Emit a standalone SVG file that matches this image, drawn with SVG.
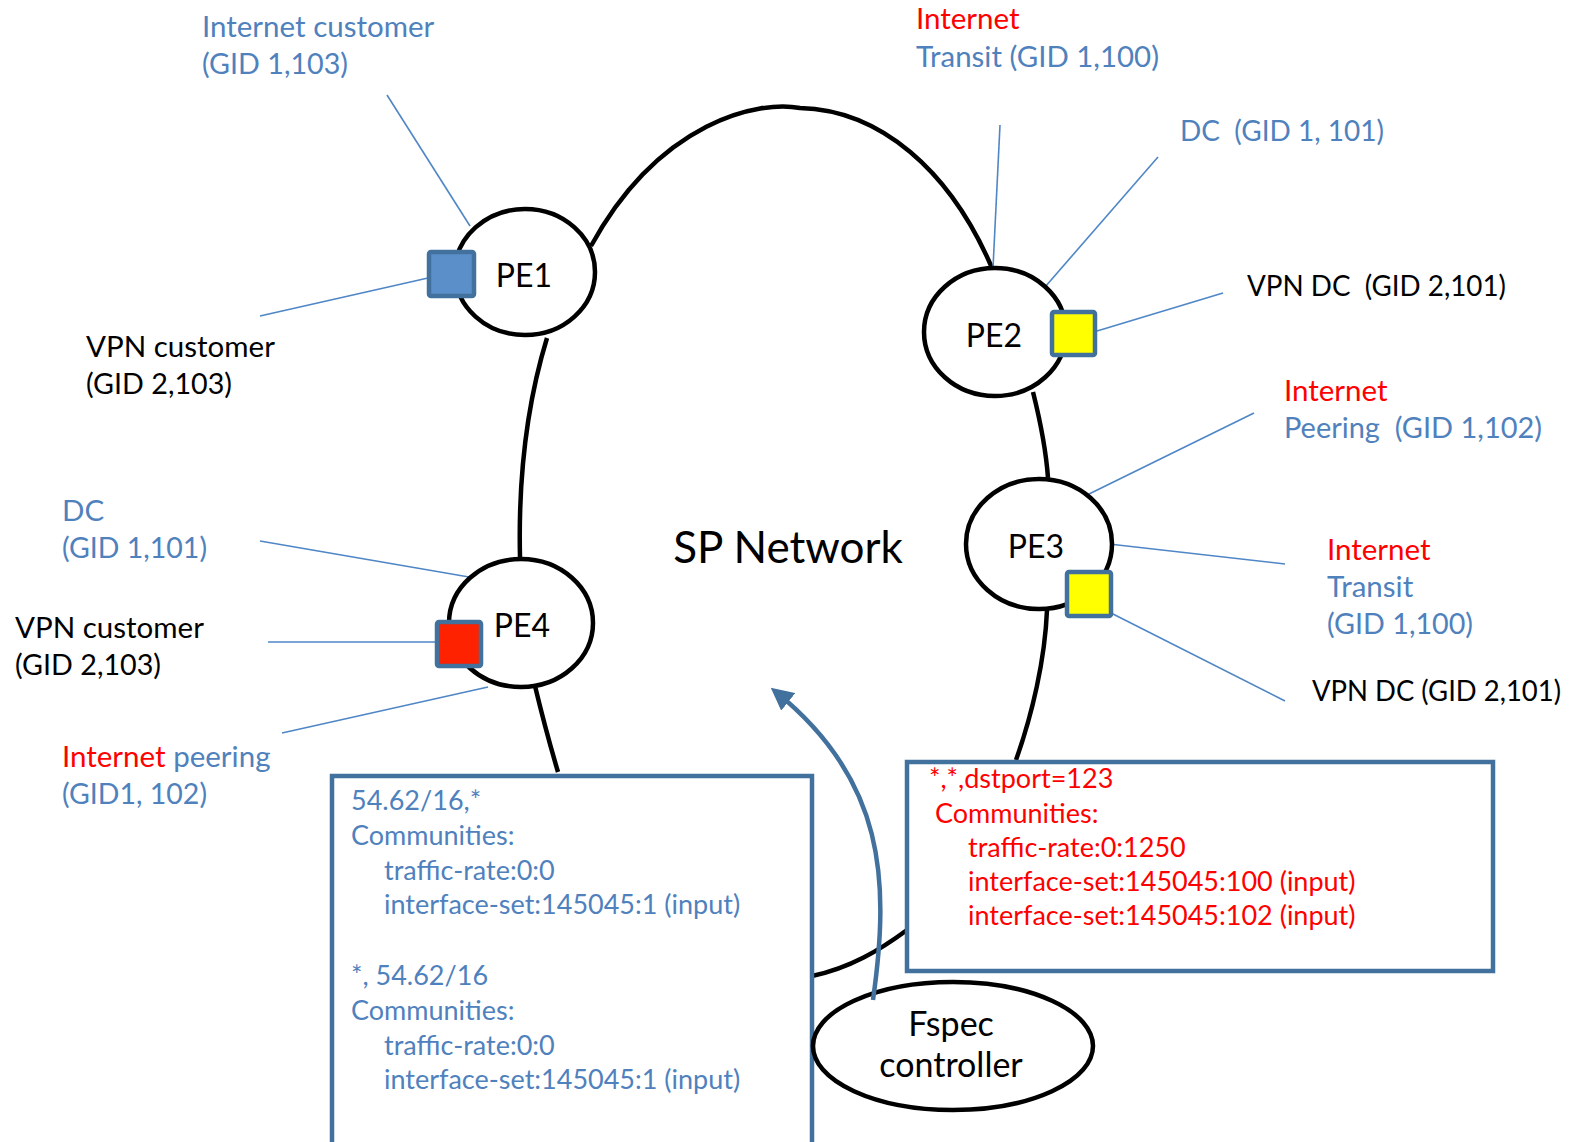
<svg xmlns="http://www.w3.org/2000/svg" width="1575" height="1142" viewBox="0 0 1575 1142">
<style>
  text { font-family: Lato, "Open Sans", "Liberation Sans", sans-serif; }
  .lbl { font-size: 29.5px; }
  .blue { fill: #4f81bd; }
  .red { fill: #ff0000; }
  .blk { fill: #000000; }
  .pe { font-size: 32px; fill: #000; text-anchor: middle; }
  .node { fill: #fff; stroke: #000; stroke-width: 4.5; }
  .ring { fill: none; stroke: #000; stroke-width: 4.5; }
  .lead { stroke: #4f86c6; stroke-width: 1.6; fill: none; }
  .port { stroke: #41719c; stroke-width: 4.5; }
  .box { fill: #fff; stroke: #41719c; stroke-width: 4.5; }
  .btxt { font-size: 27px; }
</style>
<defs>
  <marker id="arrowhead" markerWidth="5" markerHeight="5" refX="3.5" refY="2.5" orient="auto" markerUnits="strokeWidth">
    <path d="M0,0 L5,2.5 L0,5 Z" fill="#41719c"/>
  </marker>
</defs>
<rect width="1575" height="1142" fill="#fff"/>

<!-- ring links between PEs -->
<g id="connectors">
  <path class="ring" d="M591,246 C660,120 760,100 800,108 C880,110 950,170 992,268"/>
  <path class="ring" d="M1033,392 C1040,420 1046,450 1048,478"/>
  <path class="ring" d="M1047,610 C1045,660 1032,715 1016,760"/>
  <path class="ring" d="M907,930 C880,950 850,968 812,976"/>
  <path class="ring" d="M535,686 C542,715 550,745 558,772"/>
  <path class="ring" d="M520,557 C518,470 528,400 547,338"/>
  <!-- attachment leaders -->
  <line class="lead" x1="387" y1="95" x2="470" y2="226"/>
  <line class="lead" x1="260" y1="316" x2="428" y2="278"/>
  <line class="lead" x1="1000" y1="125" x2="993" y2="268"/>
  <line class="lead" x1="1158" y1="157" x2="1045" y2="287"/>
  <line class="lead" x1="1223" y1="293" x2="1097" y2="331"/>
  <line class="lead" x1="1254" y1="413" x2="1087" y2="495"/>
  <line class="lead" x1="1109" y1="544" x2="1285" y2="564"/>
  <line class="lead" x1="1111" y1="613" x2="1285" y2="701"/>
  <line class="lead" x1="260" y1="541" x2="469" y2="577"/>
  <line class="lead" x1="268" y1="642" x2="436" y2="642"/>
  <line class="lead" x1="282" y1="733" x2="488" y2="687"/>
</g>

<g id="pe1">
  <ellipse class="node" cx="525" cy="272" rx="70" ry="63"/>
  <rect class="port" x="429" y="252" width="45" height="44" rx="2" fill="#5b8fc9"/>
  <text class="pe" x="524" y="287">PE1</text>
</g>
<g id="pe2">
  <ellipse class="node" cx="995" cy="332" rx="71" ry="64"/>
  <rect class="port" x="1052" y="312" width="43" height="43" rx="2" fill="#ffff00"/>
  <text class="pe" x="994" y="347">PE2</text>
</g>
<g id="pe3">
  <ellipse class="node" cx="1039" cy="544" rx="73" ry="65"/>
  <rect class="port" x="1067" y="572" width="44" height="44" rx="2" fill="#ffff00"/>
  <text class="pe" x="1036" y="558">PE3</text>
</g>
<g id="pe4">
  <ellipse class="node" cx="521" cy="623" rx="72" ry="64"/>
  <rect class="port" x="437" y="622" width="44" height="44" rx="2" fill="#ff2200"/>
  <text class="pe" x="522" y="637">PE4</text>
</g>

<g id="sp-network">
  <text x="788" y="563" font-size="44" text-anchor="middle" fill="#000">SP Network</text>
</g>

<!-- site labels -->
<g id="labels" class="lbl">
  <text class="blue" x="202" y="37">Internet customer</text>
  <text class="blue" x="202" y="74" textLength="146" lengthAdjust="spacingAndGlyphs">(GID 1,103)</text>
  <text class="red" x="916" y="29">Internet</text>
  <text class="blue" x="916" y="67" textLength="243" lengthAdjust="spacingAndGlyphs">Transit (GID 1,100)</text>
  <text class="blue" x="1180" y="141" xml:space="preserve" textLength="204" lengthAdjust="spacingAndGlyphs">DC  (GID 1, 101)</text>
  <text class="blk" x="1247" y="296" xml:space="preserve" textLength="259" lengthAdjust="spacingAndGlyphs">VPN DC  (GID 2,101)</text>
  <text class="blk" x="86" y="357">VPN customer</text>
  <text class="blk" x="86" y="394" textLength="146" lengthAdjust="spacingAndGlyphs">(GID 2,103)</text>
  <text class="red" x="1284" y="401">Internet</text>
  <text class="blue" x="1284" y="438" xml:space="preserve" textLength="258" lengthAdjust="spacingAndGlyphs">Peering  (GID 1,102)</text>
  <text class="blue" x="62" y="521">DC</text>
  <text class="blue" x="62" y="558" textLength="145" lengthAdjust="spacingAndGlyphs">(GID 1,101)</text>
  <text class="red" x="1327" y="560">Internet</text>
  <text class="blue" x="1327" y="597">Transit</text>
  <text class="blue" x="1327" y="634" textLength="146" lengthAdjust="spacingAndGlyphs">(GID 1,100)</text>
  <text class="blk" x="15" y="638">VPN customer</text>
  <text class="blk" x="15" y="675" textLength="146" lengthAdjust="spacingAndGlyphs">(GID 2,103)</text>
  <text class="blk" x="1312" y="701" font-size="28" textLength="249" lengthAdjust="spacingAndGlyphs">VPN DC (GID 2,101)</text>
  <text x="62" y="767"><tspan class="red">Internet</tspan><tspan class="blue"> peering</tspan></text>
  <text class="blue" x="62" y="804" textLength="145" lengthAdjust="spacingAndGlyphs">(GID1, 102)</text>
</g>

<g id="rule-box-left">
  <rect class="box" x="332" y="776" width="480" height="370"/>
  <g class="btxt blue">
    <text x="351" y="810">54.62/16,*</text>
    <text x="351" y="845">Communities:</text>
    <text x="384" y="880">traffic-rate:0:0</text>
    <text x="384" y="914">interface-set:145045:1 (input)</text>
    <text x="351" y="985">*, 54.62/16</text>
    <text x="351" y="1020">Communities:</text>
    <text x="384" y="1055">traffic-rate:0:0</text>
    <text x="384" y="1089">interface-set:145045:1 (input)</text>
  </g>
</g>

<g id="rule-box-right">
  <rect class="box" x="907" y="762" width="586" height="209"/>
  <g class="btxt red">
    <text x="929" y="788">*,*,dstport=123</text>
    <text x="935" y="823">Communities:</text>
    <text x="968" y="857">traffic-rate:0:1250</text>
    <text x="968" y="891">interface-set:145045:100 (input)</text>
    <text x="968" y="925">interface-set:145045:102 (input)</text>
  </g>
</g>

<g id="fspec-controller">
  <ellipse class="node" cx="953" cy="1046" rx="140" ry="64"/>
  <text x="951" y="1036" font-size="34" text-anchor="middle" fill="#000">Fspec</text>
  <text x="951" y="1077" font-size="34" text-anchor="middle" fill="#000">controller</text>
</g>

<g id="push-arrow">
  <path d="M873,1000 C890,880 885,780 776,692" fill="none" stroke="#41719c" stroke-width="4.5" marker-end="url(#arrowhead)"/>
</g>
</svg>
